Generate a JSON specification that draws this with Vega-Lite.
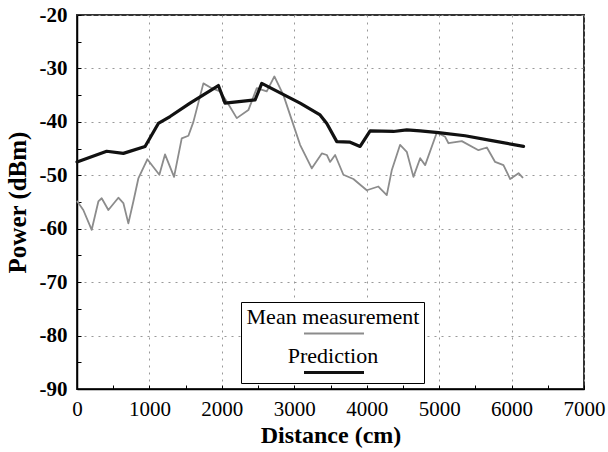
{
  "$schema": "https://vega.github.io/schema/vega-lite/v6.json",
  "width": 507,
  "height": 374,
  "autosize": "none",
  "padding": {"left": 77, "top": 15, "right": 24, "bottom": 63},
  "background": "white",
  "config": {
    "font": "Liberation Serif",
    "view": {"stroke": "#333", "strokeWidth": 2},
    "axis": {
      "domainColor": "black",
      "domainWidth": 1.5,
      "tickColor": "black",
      "tickSize": -4,
      "labelFont": "Liberation Serif",
      "labelFontSize": 21,
      "labelColor": "black",
      "labelFlush": false,
      "titleFont": "Liberation Serif",
      "titleFontSize": 24,
      "titleFontWeight": "bold",
      "titleColor": "black",
      "gridColor": "#999",
      "gridDash": [2, 5],
      "gridWidth": 1
    }
  },
  "data": {
    "values": [
      {"dist": 5, "power": -54.9, "series": "Mean measurement"},
      {"dist": 87, "power": -56.5, "series": "Mean measurement"},
      {"dist": 203, "power": -60.2, "series": "Mean measurement"},
      {"dist": 295, "power": -54.9, "series": "Mean measurement"},
      {"dist": 341, "power": -54.3, "series": "Mean measurement"},
      {"dist": 433, "power": -56.5, "series": "Mean measurement"},
      {"dist": 571, "power": -54.2, "series": "Mean measurement"},
      {"dist": 640, "power": -55.2, "series": "Mean measurement"},
      {"dist": 709, "power": -59.0, "series": "Mean measurement"},
      {"dist": 778, "power": -54.9, "series": "Mean measurement"},
      {"dist": 847, "power": -50.6, "series": "Mean measurement"},
      {"dist": 971, "power": -47.0, "series": "Mean measurement"},
      {"dist": 1137, "power": -49.9, "series": "Mean measurement"},
      {"dist": 1215, "power": -46.1, "series": "Mean measurement"},
      {"dist": 1340, "power": -50.3, "series": "Mean measurement"},
      {"dist": 1446, "power": -43.1, "series": "Mean measurement"},
      {"dist": 1538, "power": -42.6, "series": "Mean measurement"},
      {"dist": 1607, "power": -40.0, "series": "Mean measurement"},
      {"dist": 1745, "power": -32.8, "series": "Mean measurement"},
      {"dist": 1860, "power": -33.7, "series": "Mean measurement"},
      {"dist": 1975, "power": -34.3, "series": "Mean measurement"},
      {"dist": 2068, "power": -36.2, "series": "Mean measurement"},
      {"dist": 2206, "power": -39.3, "series": "Mean measurement"},
      {"dist": 2366, "power": -37.8, "series": "Mean measurement"},
      {"dist": 2482, "power": -33.7, "series": "Mean measurement"},
      {"dist": 2620, "power": -34.3, "series": "Mean measurement"},
      {"dist": 2725, "power": -31.5, "series": "Mean measurement"},
      {"dist": 2850, "power": -35.0, "series": "Mean measurement"},
      {"dist": 3011, "power": -41.5, "series": "Mean measurement"},
      {"dist": 3080, "power": -44.3, "series": "Mean measurement"},
      {"dist": 3242, "power": -48.7, "series": "Mean measurement"},
      {"dist": 3380, "power": -45.9, "series": "Mean measurement"},
      {"dist": 3449, "power": -46.2, "series": "Mean measurement"},
      {"dist": 3494, "power": -47.5, "series": "Mean measurement"},
      {"dist": 3564, "power": -46.2, "series": "Mean measurement"},
      {"dist": 3678, "power": -49.9, "series": "Mean measurement"},
      {"dist": 3816, "power": -50.7, "series": "Mean measurement"},
      {"dist": 4001, "power": -52.8, "series": "Mean measurement"},
      {"dist": 4161, "power": -52.1, "series": "Mean measurement"},
      {"dist": 4277, "power": -53.7, "series": "Mean measurement"},
      {"dist": 4347, "power": -49.0, "series": "Mean measurement"},
      {"dist": 4461, "power": -44.3, "series": "Mean measurement"},
      {"dist": 4553, "power": -45.6, "series": "Mean measurement"},
      {"dist": 4645, "power": -50.3, "series": "Mean measurement"},
      {"dist": 4738, "power": -46.8, "series": "Mean measurement"},
      {"dist": 4807, "power": -48.1, "series": "Mean measurement"},
      {"dist": 4968, "power": -42.0, "series": "Mean measurement"},
      {"dist": 5083, "power": -42.8, "series": "Mean measurement"},
      {"dist": 5129, "power": -44.0, "series": "Mean measurement"},
      {"dist": 5313, "power": -43.6, "series": "Mean measurement"},
      {"dist": 5543, "power": -45.3, "series": "Mean measurement"},
      {"dist": 5659, "power": -44.8, "series": "Mean measurement"},
      {"dist": 5773, "power": -47.5, "series": "Mean measurement"},
      {"dist": 5888, "power": -48.1, "series": "Mean measurement"},
      {"dist": 5981, "power": -50.7, "series": "Mean measurement"},
      {"dist": 6096, "power": -49.6, "series": "Mean measurement"},
      {"dist": 6151, "power": -50.4, "series": "Mean measurement"},
      {"dist": 0, "power": -47.5, "series": "Prediction"},
      {"dist": 410, "power": -45.5, "series": "Prediction"},
      {"dist": 640, "power": -45.9, "series": "Prediction"},
      {"dist": 940, "power": -44.6, "series": "Prediction"},
      {"dist": 1123, "power": -40.3, "series": "Prediction"},
      {"dist": 1285, "power": -39.0, "series": "Prediction"},
      {"dist": 1561, "power": -36.5, "series": "Prediction"},
      {"dist": 1952, "power": -33.2, "series": "Prediction"},
      {"dist": 2044, "power": -36.5, "series": "Prediction"},
      {"dist": 2459, "power": -35.9, "series": "Prediction"},
      {"dist": 2551, "power": -32.8, "series": "Prediction"},
      {"dist": 3080, "power": -36.5, "series": "Prediction"},
      {"dist": 3356, "power": -38.7, "series": "Prediction"},
      {"dist": 3449, "power": -40.3, "series": "Prediction"},
      {"dist": 3587, "power": -43.7, "series": "Prediction"},
      {"dist": 3771, "power": -43.8, "series": "Prediction"},
      {"dist": 3909, "power": -44.6, "series": "Prediction"},
      {"dist": 4047, "power": -41.7, "series": "Prediction"},
      {"dist": 4369, "power": -41.8, "series": "Prediction"},
      {"dist": 4553, "power": -41.5, "series": "Prediction"},
      {"dist": 4738, "power": -41.7, "series": "Prediction"},
      {"dist": 4991, "power": -42.0, "series": "Prediction"},
      {"dist": 5359, "power": -42.6, "series": "Prediction"},
      {"dist": 5728, "power": -43.5, "series": "Prediction"},
      {"dist": 6165, "power": -44.6, "series": "Prediction"}
    ]
  },
  "mark": {"type": "line", "strokeJoin": "round", "strokeCap": "round"},
  "encoding": {
    "x": {
      "field": "dist",
      "type": "quantitative",
      "scale": {"domain": [0, 7000], "nice": false},
      "axis": {
        "title": "Distance  (cm)",
        "values": [0, 500, 1000, 1500, 2000, 2500, 3000, 3500, 4000, 4500, 5000, 5500, 6000, 6500, 7000],
        "labelExpr": "datum.value % 1000 == 0 ? '' + datum.value : ''",
        "labelPadding": 13,
        "titlePadding": 4,
        "gridOpacity": {"condition": {"test": "datum.value % 1000 == 0", "value": 1}, "value": 0}
      }
    },
    "y": {
      "field": "power",
      "type": "quantitative",
      "scale": {"domain": [-90, -20], "nice": false},
      "axis": {
        "title": "Power (dBm)",
        "titleFontSize": 25,
        "values": [-90, -85, -80, -75, -70, -65, -60, -55, -50, -45, -40, -35, -30, -25, -20],
        "labelExpr": "datum.value % 10 == 0 ? '' + datum.value : ''",
        "labelFontWeight": "bold",
        "labelPadding": 14,
        "titlePadding": 9,
        "gridOpacity": {"condition": {"test": "datum.value % 10 == 0", "value": 1}, "value": 0}
      }
    },
    "color": {
      "field": "series",
      "type": "nominal",
      "scale": {"domain": ["Mean measurement", "Prediction"], "range": ["#8c8c8c", "#111111"]},
      "legend": {
        "title": null,
        "orient": "none",
        "legendX": 164,
        "legendY": 287,
        "padding": 4,
        "strokeColor": "black",
        "fillColor": "white",
        "labelFont": "Liberation Serif",
        "labelFontSize": 22,
        "labelColor": "black",
        "labelLimit": 400,
        "labelAlign": "center",
        "labelOffset": -13,
        "symbolOffset": 77,
        "symbolType": "M-3,1.65H3",
        "symbolSize": 400,
        "rowPadding": 6
      }
    },
    "strokeWidth": {
      "field": "series",
      "type": "nominal",
      "scale": {"domain": ["Mean measurement", "Prediction"], "range": [1.8, 3.2]},
      "legend": null
    }
  }
}
